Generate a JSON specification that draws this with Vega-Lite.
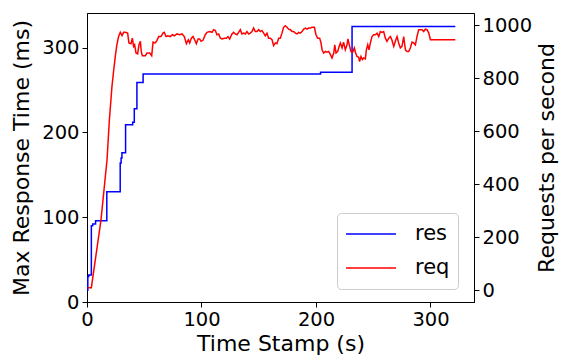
{
  "$schema": "https://vega.github.io/schema/vega-lite/v6.json",
  "width": 387,
  "height": 289,
  "autosize": {"type": "none"},
  "padding": {"left": 87, "top": 13, "right": 89, "bottom": 55},
  "background": "white",
  "config": {
    "font": "DejaVu Sans",
    "view": {"stroke": "black", "strokeWidth": 1},
    "axis": {
      "grid": false,
      "labelFontSize": 19.5,
      "titleFontSize": 22,
      "titleFontWeight": "normal",
      "labelColor": "black",
      "titleColor": "black",
      "tickColor": "black",
      "domainColor": "black",
      "tickSize": 5,
      "labelPadding": 3,
      "labelFlush": false,
      "labelOverlap": false
    },
    "legend": {
      "labelFontSize": 21,
      "labelColor": "black",
      "strokeColor": "#cccccc",
      "fillColor": "white",
      "cornerRadius": 4,
      "padding": 8
    }
  },
  "data": {
    "values": [
      {"s":"res","t":0,"v":14},{"s":"res","t":0.7,"v":30},{"s":"res","t":1.5,"v":32},{"s":"res","t":3.8,"v":90},{"s":"res","t":5,"v":92},{"s":"res","t":7.5,"v":96},{"s":"res","t":17.3,"v":130},{"s":"res","t":29,"v":164},{"s":"res","t":29.8,"v":170},{"s":"res","t":30.5,"v":176},{"s":"res","t":33.7,"v":209},{"s":"res","t":39.9,"v":212},{"s":"res","t":41.3,"v":228},{"s":"res","t":43.6,"v":259},{"s":"res","t":49,"v":269},{"s":"res","t":204,"v":271},{"s":"res","t":231.5,"v":325},{"s":"res","t":321.7,"v":325},
      {"s":"req","t":0.5,"v":10},{"s":"req","t":3.8,"v":10},{"s":"req","t":12.2,"v":265},{"s":"req","t":17.5,"v":493},{"s":"req","t":19.5,"v":640},{"s":"req","t":21.8,"v":770},{"s":"req","t":23.3,"v":830},{"s":"req","t":24.7,"v":883},{"s":"req","t":26,"v":925},{"s":"req","t":27.6,"v":958},{"s":"req","t":29.1,"v":974},{"s":"req","t":30.6,"v":962},{"s":"req","t":32,"v":974},{"s":"req","t":33.5,"v":974},{"s":"req","t":35.5,"v":971},{"s":"req","t":36.6,"v":934},{"s":"req","t":38.4,"v":931},{"s":"req","t":39.6,"v":952},{"s":"req","t":40.7,"v":921},{"s":"req","t":41.6,"v":927},{"s":"req","t":42.8,"v":896},{"s":"req","t":44.2,"v":893},{"s":"req","t":45.4,"v":927},{"s":"req","t":46.6,"v":940},{"s":"req","t":47.4,"v":902},{"s":"req","t":48.3,"v":886},{"s":"req","t":51,"v":886},{"s":"req","t":52.4,"v":896},{"s":"req","t":54.8,"v":896},{"s":"req","t":56.5,"v":886},{"s":"req","t":57.7,"v":937},{"s":"req","t":59.7,"v":934},{"s":"req","t":61.1,"v":944},{"s":"req","t":62.6,"v":958},{"s":"req","t":64.6,"v":958},{"s":"req","t":66.4,"v":971},{"s":"req","t":67.5,"v":974},{"s":"req","t":69,"v":958},{"s":"req","t":70.4,"v":961},{"s":"req","t":72.8,"v":958},{"s":"req","t":74.5,"v":965},{"s":"req","t":76.2,"v":961},{"s":"req","t":78.6,"v":968},{"s":"req","t":80.9,"v":965},{"s":"req","t":83,"v":968},{"s":"req","t":85,"v":958},{"s":"req","t":86.8,"v":931},{"s":"req","t":88.5,"v":946},{"s":"req","t":89.7,"v":934},{"s":"req","t":91.1,"v":952},{"s":"req","t":92.6,"v":958},{"s":"req","t":94,"v":946},{"s":"req","t":95.5,"v":931},{"s":"req","t":97,"v":949},{"s":"req","t":98.4,"v":949},{"s":"req","t":99.6,"v":940},{"s":"req","t":101.3,"v":944},{"s":"req","t":103.3,"v":965},{"s":"req","t":104.8,"v":974},{"s":"req","t":107.1,"v":977},{"s":"req","t":109.2,"v":974},{"s":"req","t":110.6,"v":984},{"s":"req","t":112.1,"v":981},{"s":"req","t":113.5,"v":965},{"s":"req","t":115,"v":968},{"s":"req","t":116.5,"v":952},{"s":"req","t":117.9,"v":949},{"s":"req","t":120,"v":952},{"s":"req","t":121.7,"v":952},{"s":"req","t":123.1,"v":958},{"s":"req","t":124.6,"v":949},{"s":"req","t":126.6,"v":968},{"s":"req","t":128.1,"v":974},{"s":"req","t":129.5,"v":968},{"s":"req","t":131,"v":965},{"s":"req","t":132.4,"v":974},{"s":"req","t":133.9,"v":984},{"s":"req","t":135.3,"v":968},{"s":"req","t":136.8,"v":971},{"s":"req","t":138.3,"v":968},{"s":"req","t":139.7,"v":977},{"s":"req","t":141.2,"v":968},{"s":"req","t":142.6,"v":971},{"s":"req","t":144.1,"v":977},{"s":"req","t":145.5,"v":990},{"s":"req","t":147,"v":977},{"s":"req","t":148.5,"v":977},{"s":"req","t":149.9,"v":984},{"s":"req","t":151.4,"v":977},{"s":"req","t":152.8,"v":981},{"s":"req","t":154.3,"v":971},{"s":"req","t":155.7,"v":961},{"s":"req","t":157.2,"v":971},{"s":"req","t":158.6,"v":952},{"s":"req","t":160.1,"v":952},{"s":"req","t":161.6,"v":946},{"s":"req","t":163,"v":924},{"s":"req","t":164.5,"v":934},{"s":"req","t":165.9,"v":931},{"s":"req","t":167.4,"v":952},{"s":"req","t":168.8,"v":952},{"s":"req","t":170.3,"v":971},{"s":"req","t":171.7,"v":993},{"s":"req","t":173.2,"v":999},{"s":"req","t":174.7,"v":993},{"s":"req","t":176.1,"v":986},{"s":"req","t":177.6,"v":984},{"s":"req","t":179,"v":977},{"s":"req","t":180.5,"v":977},{"s":"req","t":182,"v":971},{"s":"req","t":183.4,"v":968},{"s":"req","t":184.9,"v":974},{"s":"req","t":186.3,"v":971},{"s":"req","t":187.8,"v":977},{"s":"req","t":189.3,"v":986},{"s":"req","t":190.7,"v":990},{"s":"req","t":192.2,"v":986},{"s":"req","t":193.6,"v":990},{"s":"req","t":195.1,"v":990},{"s":"req","t":196.5,"v":993},{"s":"req","t":198.6,"v":993},{"s":"req","t":200,"v":965},{"s":"req","t":201.5,"v":952},{"s":"req","t":203.2,"v":952},{"s":"req","t":204.4,"v":934},{"s":"req","t":205.3,"v":908},{"s":"req","t":206.7,"v":896},{"s":"req","t":208.2,"v":902},{"s":"req","t":209.6,"v":899},{"s":"req","t":211.1,"v":902},{"s":"req","t":212.6,"v":890},{"s":"req","t":214,"v":877},{"s":"req","t":215.5,"v":896},{"s":"req","t":216.4,"v":927},{"s":"req","t":217.5,"v":896},{"s":"req","t":219,"v":902},{"s":"req","t":220.2,"v":921},{"s":"req","t":221.3,"v":934},{"s":"req","t":222.8,"v":915},{"s":"req","t":224.1,"v":937},{"s":"req","t":225.6,"v":908},{"s":"req","t":227.1,"v":927},{"s":"req","t":227.9,"v":949},{"s":"req","t":229.4,"v":921},{"s":"req","t":230.5,"v":902},{"s":"req","t":232,"v":899},{"s":"req","t":233.5,"v":915},{"s":"req","t":234.6,"v":896},{"s":"req","t":235.8,"v":883},{"s":"req","t":237.3,"v":880},{"s":"req","t":238.1,"v":864},{"s":"req","t":239.3,"v":883},{"s":"req","t":240.5,"v":871},{"s":"req","t":241.6,"v":877},{"s":"req","t":243.1,"v":874},{"s":"req","t":244,"v":908},{"s":"req","t":245.2,"v":927},{"s":"req","t":246.3,"v":908},{"s":"req","t":247.5,"v":934},{"s":"req","t":248.9,"v":958},{"s":"req","t":250.4,"v":965},{"s":"req","t":251.8,"v":965},{"s":"req","t":253.3,"v":971},{"s":"req","t":254.8,"v":958},{"s":"req","t":256.2,"v":977},{"s":"req","t":257.7,"v":974},{"s":"req","t":259.1,"v":977},{"s":"req","t":260.6,"v":952},{"s":"req","t":262,"v":940},{"s":"req","t":263.5,"v":952},{"s":"req","t":265,"v":958},{"s":"req","t":266.4,"v":944},{"s":"req","t":267.9,"v":921},{"s":"req","t":269.3,"v":940},{"s":"req","t":270.8,"v":958},{"s":"req","t":272.2,"v":934},{"s":"req","t":273.7,"v":915},{"s":"req","t":275.1,"v":921},{"s":"req","t":276.6,"v":958},{"s":"req","t":278.1,"v":908},{"s":"req","t":279.5,"v":902},{"s":"req","t":281,"v":902},{"s":"req","t":282.4,"v":915},{"s":"req","t":283.9,"v":937},{"s":"req","t":285.3,"v":934},{"s":"req","t":286.8,"v":927},{"s":"req","t":288.2,"v":958},{"s":"req","t":289.7,"v":984},{"s":"req","t":291.2,"v":984},{"s":"req","t":292.6,"v":984},{"s":"req","t":294.1,"v":977},{"s":"req","t":295.5,"v":986},{"s":"req","t":297,"v":984},{"s":"req","t":298.5,"v":971},{"s":"req","t":299.9,"v":946},{"s":"req","t":321.7,"v":946}
    ]
  },
  "encoding": {
    "x": {
      "field": "t",
      "type": "quantitative",
      "scale": {"domain": [0, 338], "nice": false, "zero": false},
      "axis": {"title": "Time Stamp (s)", "values": [0, 100, 200, 300], "titlePadding": 5}
    },
    "color": {
      "field": "s",
      "type": "nominal",
      "scale": {"domain": ["res", "req"], "range": ["#0000ff", "#ff0000"]},
      "legend": {
        "title": null,
        "orient": "none",
        "legendX": 250,
        "legendY": 200,
        "symbolType": "stroke",
        "symbolSize": 2500,
        "symbolStrokeWidth": 1.5,
        "clipHeight": 26,
        "rowPadding": 8,
        "labelOffset": 18
      }
    }
  },
  "layer": [
    {
      "transform": [{"filter": "datum.s === 'res'"}],
      "mark": {"type": "line", "interpolate": "step-after", "strokeWidth": 1.5},
      "encoding": {
        "y": {
          "field": "v",
          "type": "quantitative",
          "scale": {"domain": [0, 341], "nice": false},
          "axis": {"title": "Max Response Time (ms)", "orient": "left", "values": [0, 100, 200, 300], "titlePadding": 8}
        }
      }
    },
    {
      "transform": [{"filter": "datum.s === 'req'"}],
      "mark": {"type": "line", "strokeWidth": 1.5},
      "encoding": {
        "y": {
          "field": "v",
          "type": "quantitative",
          "scale": {"domain": [-44, 1047], "nice": false, "zero": false},
          "axis": {"title": "Requests per second", "orient": "right", "values": [0, 200, 400, 600, 800, 1000], "format": "d", "titleAngle": 270, "titleBaseline": "top", "titlePadding": 5}
        }
      }
    }
  ],
  "resolve": {"scale": {"y": "independent"}}
}
